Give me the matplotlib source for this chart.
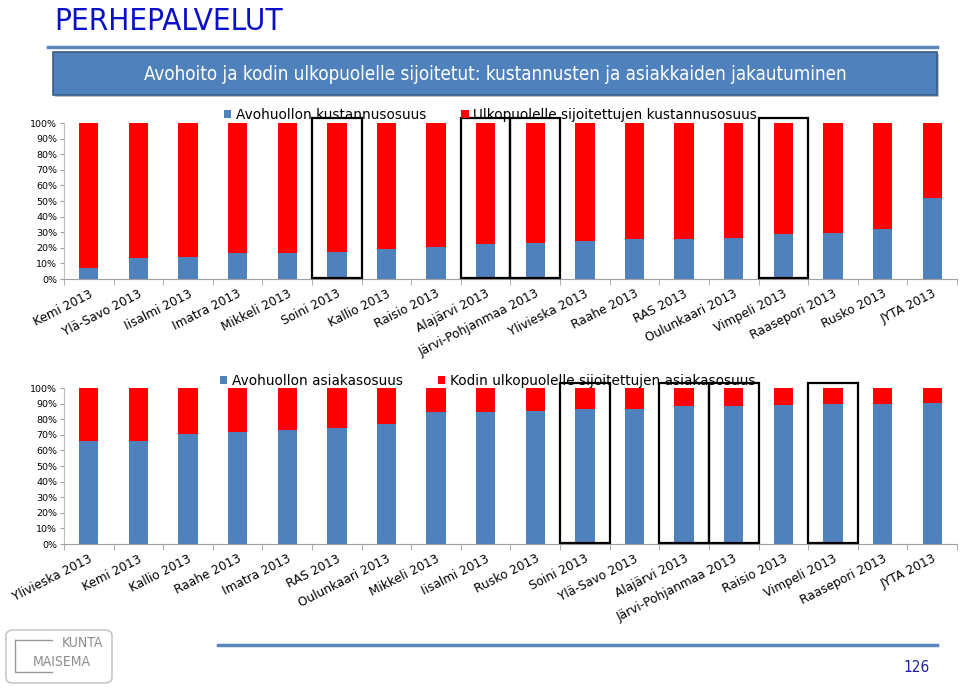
import numpy as np
import matplotlib
matplotlib.use("Agg")
import matplotlib.pyplot as plt
from matplotlib.patches import Rectangle, FancyBboxPatch

# kustannukset (top chart), sorted by avohuolto share
cost_units = ["Kemi 2013", "Ylä-Savo 2013", "Iisalmi 2013", "Imatra 2013", "Mikkeli 2013",
              "Soini 2013", "Kallio 2013", "Raisio 2013", "Alajärvi 2013",
              "Järvi-Pohjanmaa 2013", "Ylivieska 2013", "Raahe 2013", "RAS 2013",
              "Oulunkaari 2013", "Vimpeli 2013", "Raasepori 2013", "Rusko 2013", "JYTA 2013"]
cost_avo = [7.0, 13.6, 14.3, 16.4, 16.8, 17.5, 19.4, 20.5, 22.6,
            22.8, 24.5, 25.4, 25.6, 26.4, 28.8, 29.4, 32.2, 52.0]
cost_highlight = ["Soini 2013", "Alajärvi 2013", "Järvi-Pohjanmaa 2013", "Vimpeli 2013"]

# asiakkaat (bottom chart)
client_units = ["Ylivieska 2013", "Kemi 2013", "Kallio 2013", "Raahe 2013", "Imatra 2013",
                "RAS 2013", "Oulunkaari 2013", "Mikkeli 2013", "Iisalmi 2013", "Rusko 2013",
                "Soini 2013", "Ylä-Savo 2013", "Alajärvi 2013", "Järvi-Pohjanmaa 2013",
                "Raisio 2013", "Vimpeli 2013", "Raasepori 2013", "JYTA 2013"]
client_avo = [65.9, 66.1, 70.8, 72.1, 73.1, 74.4, 76.8, 84.4, 84.6, 85.5,
              86.6, 86.7, 88.5, 88.5, 88.9, 89.8, 89.8, 90.6]
client_highlight = ["Soini 2013", "Alajärvi 2013", "Järvi-Pohjanmaa 2013", "Vimpeli 2013"]

BLUE = "#4F81BD"
RED = "#FF0000"
W, H = 960, 688


def px_axes(fig, left, top, right, bottom):
    return fig.add_axes([left / W, (H - bottom) / H, (right - left) / W, (bottom - top) / H])


def stacked_chart(ax, units, avo, highlight, labels, legend_pos):
    x = np.arange(len(units))
    avo = np.array(avo)
    rest = 100 - avo
    b1 = ax.bar(x, avo, width=0.39, color=BLUE, label=labels[0])
    b2 = ax.bar(x, rest, width=0.39, bottom=avo, color=RED, label=labels[1])
    ax.set_xlim(-0.5, len(units) - 0.5)
    ax.set_ylim(0, 100)
    ax.set_yticks(np.arange(0, 101, 10))
    ax.set_yticklabels([f"{v}%" for v in range(0, 101, 10)], fontsize=6.8)
    ax.set_xticks(x)
    ax.set_xticklabels(units, rotation=27, ha="right", rotation_mode="anchor", fontsize=8.7)
    ax.set_xticks(np.arange(-0.5, len(units), 1), minor=True)
    ax.tick_params(axis="x", which="major", length=0, pad=6)
    ax.tick_params(axis="x", which="minor", length=4, color="#A0A0A0", direction="out")
    ax.tick_params(axis="y", length=3, color="#A0A0A0", pad=2)
    for s in ["top", "right"]:
        ax.spines[s].set_visible(False)
    ax.spines["left"].set_color("#BFBFBF")
    ax.spines["bottom"].set_color("#A0A0A0")

    # black frames around the highlighted units
    for name in highlight:
        i = units.index(name)
        ax.add_patch(Rectangle((i - 0.5, 0.8), 1.0, 102.4, fill=False, edgecolor="black",
                               linewidth=1.6, clip_on=False, zorder=5))

    ax.legend(handles=[b1, b2], ncol=2, loc="center left", bbox_to_anchor=legend_pos,
              bbox_transform=ax.figure.transFigure, frameon=False, fontsize=9.8,
              handlelength=0.55, handleheight=0.55, handletextpad=0.3, columnspacing=2.6,
              borderpad=0, borderaxespad=0)


fig = plt.figure(figsize=(9.6, 6.88), dpi=100)

# header
fig.text(54 / W, 1 - 30 / H, "PERHEPALVELUT", fontsize=22.5, color="#0A10C8",
         fontstretch="condensed", va="baseline", ha="left")
fig.add_artist(plt.Line2D([48 / W, 937 / W], [1 - 47 / H] * 2, color="#5A86BA", lw=2.5))
fig.add_artist(Rectangle((55 / W, 1 - 97 / H), 884 / W, 43 / H, facecolor="#7F7F7F",
                         edgecolor="none", alpha=0.5))
fig.add_artist(Rectangle((53 / W, 1 - 95 / H), 884 / W, 43 / H, facecolor="#4F81BD",
                         edgecolor="#385D8A", lw=1.2))
fig.text(495 / W, 1 - 74 / H,
         "Avohoito ja kodin ulkopuolelle sijoitetut: kustannusten ja asiakkaiden jakautuminen",
         fontsize=13.5, color="white", fontstretch="condensed", ha="center", va="center")

ax1 = px_axes(fig, 64, 123, 957, 279)
stacked_chart(ax1, cost_units, cost_avo, cost_highlight,
              ["Avohuollon kustannusosuus", "Ulkopuolelle sijoitettujen kustannusosuus"],
              (224 / W, 1 - 115 / H))

ax2 = px_axes(fig, 64, 388, 957, 544)
stacked_chart(ax2, client_units, client_avo, client_highlight,
              ["Avohuollon asiakasosuus", "Kodin ulkopuolelle sijoitettujen asiakasosuus"],
              (220 / W, 1 - 381 / H))

# footer
fig.add_artist(plt.Line2D([218 / W, 937 / W], [1 - 645 / H] * 2, color="#5A86BA", lw=2.5))
fig.text(930 / W, 1 - 668 / H, "126", fontsize=11, color="#1F1F9F", ha="right", va="center",
         fontstretch="condensed")
fig.add_artist(FancyBboxPatch((6 / W, 1 - 683 / H), 106 / W, 53 / H,
                              boxstyle="round,pad=0,rounding_size=0.008",
                              facecolor="white", edgecolor="#C8C8C8", lw=1.2))
fig.text(82 / W, 1 - 643 / H, "KUNTA", fontsize=10, color="#8C8C8C", ha="center", va="center",
         fontstretch="condensed")
fig.text(62 / W, 1 - 662 / H, "MAISEMA", fontsize=10, color="#8C8C8C", ha="center", va="center",
         fontstretch="condensed")
fig.add_artist(plt.Line2D([15 / W, 15 / W, 52 / W], [1 - 640 / H, 1 - 672 / H, 1 - 672 / H],
                          color="#9A9A9A", lw=1))
fig.add_artist(plt.Line2D([15 / W, 52 / W], [1 - 640 / H, 1 - 640 / H], color="#9A9A9A", lw=1))

fig.savefig("out.png", dpi=100)
